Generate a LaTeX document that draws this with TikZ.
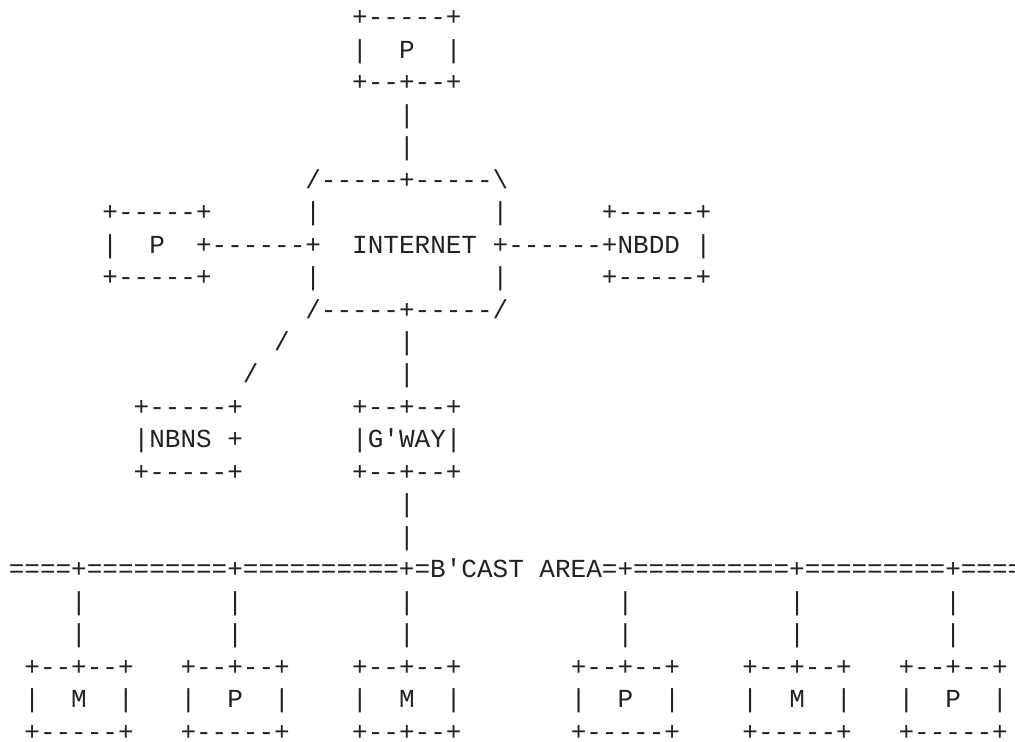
\documentclass[tikz,border=0pt]{standalone}
\usepackage{fontspec}
\setmonofont{Liberation Mono}
\usepackage{tikz}
\definecolor{ink}{HTML}{222222}

\begin{document}
\begin{tikzpicture}[
    x=11.7075pt, y=-24.3525pt,
    txt/.style={anchor=base west, inner sep=0pt, outer sep=0pt, align=left, text=ink,
      font=\ttfamily\fontsize{19.51}{24.3525}\selectfont},
  ]
  \useasboundingbox (-0.5637, 0.2054) rectangle (64.459, 23.027);

  % Hosts and servers on the internet (placed at their last row)
  \node[txt] (ptop)  at (22, 3)  {+-----+\\|~~P~~|\\+--+--+};
  \node[txt] (pleft) at (6, 9)   {+-----+\\|~~P~~+\\+-----+};
  \node[txt] (nbdd)  at (38, 9)  {+-----+\\+NBDD~|\\+-----+};
  \node[txt] (nbns)  at (8, 15)  {+-----+\\|NBNS~+\\+-----+};
  \node[txt] (gway)  at (22, 15) {+--+--+\\|G'WAY|\\+--+--+};

  % Internet cloud
  \node[txt] (inet) at (19, 10) {/-----+-----\textbackslash\\|~~~~~~~~~~~|\\+~~INTERNET~+\\|~~~~~~~~~~~|\\/-----+-----/};

  % Links to the cloud
  \node[txt] (ptoplink)  at (25, 5)  {|\\|};
  \node[txt] (pleftlink) at (13, 8)  {------};
  \node[txt] (nbddlink)  at (32, 8)  {------};
  \node[txt] (nbnslinka) at (17, 11) {/};
  \node[txt] (nbnslinkb) at (15, 12) {/};
  \node[txt] (gwaylink)  at (25, 12) {|\\|};
  \node[txt] (buslink)   at (25, 17) {|\\|};

  % Broadcast area
  \node[txt] (bus) at (0, 18) {====+=========+==========+=B'CAST~AREA=+==========+=========+====};

  % Drops to the stations
  \node[txt] (dropa) at (4, 20)  {|\\|};
  \node[txt] (dropb) at (14, 20) {|\\|};
  \node[txt] (dropc) at (25, 20) {|\\|};
  \node[txt] (dropd) at (39, 20) {|\\|};
  \node[txt] (drope) at (50, 20) {|\\|};
  \node[txt] (dropf) at (60, 20) {|\\|};

  % Stations
  \node[txt] (sta) at (1, 23)  {+--+--+\\|~~M~~|\\+-----+};
  \node[txt] (stb) at (11, 23) {+--+--+\\|~~P~~|\\+-----+};
  \node[txt] (stc) at (22, 23) {+--+--+\\|~~M~~|\\+--+--+};
  \node[txt] (std) at (36, 23) {+--+--+\\|~~P~~|\\+-----+};
  \node[txt] (ste) at (47, 23) {+--+--+\\|~~M~~|\\+-----+};
  \node[txt] (stf) at (57, 23) {+--+--+\\|~~P~~|\\+-----+};
\end{tikzpicture}
\end{document}
